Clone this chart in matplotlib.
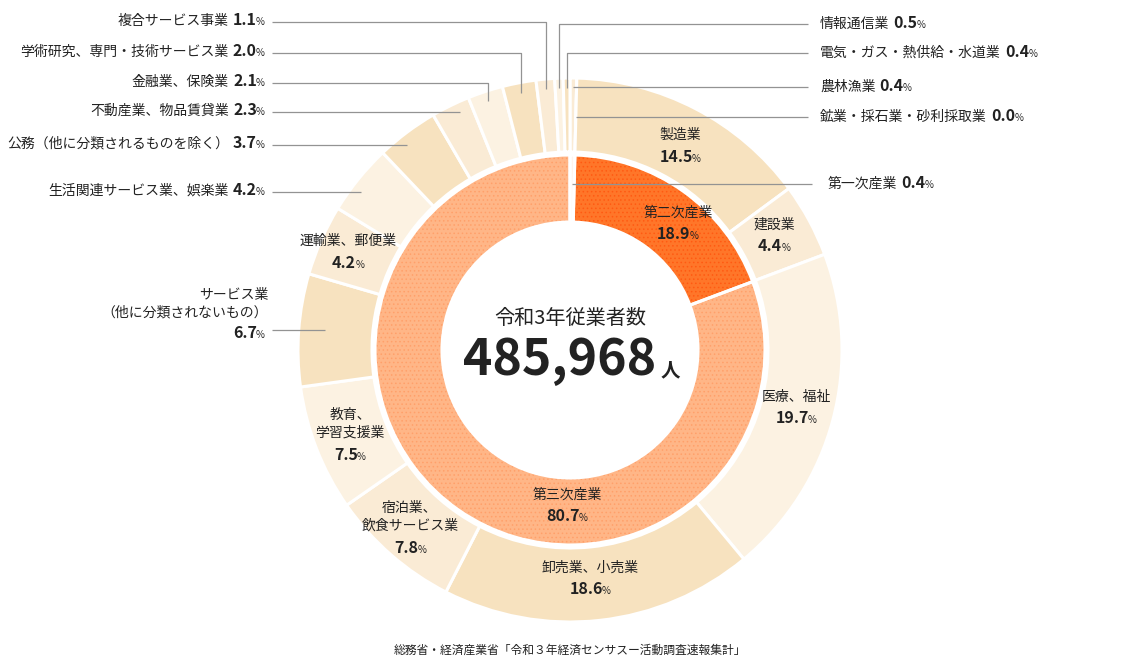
import matplotlib.pyplot as plt
import numpy as np

W, H = 1140, 670
CX, CY = 570, 350          # chart centre in pixel coords (y grows downward)
R_OUT, W_OUT = 272, 74
R_IN, W_IN = 195, 67

# data ------------------------------------------------------------------
outer_names = [
    "農林漁業", "鉱業・採石業・砂利採取業", "製造業", "建設業", "医療、福祉",
    "卸売業、小売業", "宿泊業、飲食サービス業", "教育、学習支援業",
    "サービス業（他に分類されないもの）", "運輸業、郵便業",
    "生活関連サービス業、娯楽業", "公務（他に分類されるものを除く）",
    "不動産業、物品賃貸業", "金融業、保険業", "学術研究、専門・技術サービス業",
    "複合サービス事業", "情報通信業", "電気・ガス・熱供給・水道業",
]
outer_share = [0.4, 0.0, 14.5, 4.4, 19.7, 18.6, 7.8, 7.5, 6.7, 4.2,
               4.2, 3.7, 2.3, 2.1, 2.0, 1.1, 0.5, 0.4]
inner_names = ["第一次産業", "第二次産業", "第三次産業"]
inner_share = [0.4, 18.9, 80.7]
total_title = "令和3年従業者数"
total_workers = 485968
source = "総務省・経済産業省「令和３年経済センサスー活動調査速報集計」"

# style -----------------------------------------------------------------
TXT = "#222222"
LINE = "#939393"
DARK, MID, LIGHT = "#F7E2BF", "#FAEBD5", "#FCF2E2"
outer_colors = [MID, MID] + [DARK, MID, LIGHT] * 5 + [DARK]
inner_face = ["#FFF4EC", "#FF7629", "#FFB687"]
inner_dots = ["#FFF4EC", "#FF5A12", "#FFA06A"]
NAME_FS, NUM_FS, PCT_FS = 10, 11.5, 7

plt.rcParams["font.family"] = ["Noto Sans CJK JP", "DejaVu Sans"]
plt.rcParams["hatch.linewidth"] = 0.6


def py(y):
    return H - y


def mid_angles(share):
    frac = np.asarray(share, dtype=float) / np.sum(share)
    return (np.cumsum(frac) - frac / 2) * 2 * np.pi   # clockwise from top


def ring_point(theta, r):
    return CX + r * np.sin(theta), CY - r * np.cos(theta)


fig = plt.figure(figsize=(W / 100, H / 100), dpi=100)
ax = fig.add_axes([0, 0, 1, 1])

ax.pie(outer_share, radius=R_OUT, center=(CX, py(CY)), startangle=90,
       counterclock=False, colors=outer_colors,
       wedgeprops=dict(width=W_OUT, edgecolor="white", linewidth=2.2))

wedges, _ = ax.pie(inner_share, radius=R_IN, center=(CX, py(CY)), startangle=90,
                   counterclock=False, colors=inner_face,
                   wedgeprops=dict(width=W_IN, linewidth=0))
for w, c in zip(wedges, inner_dots):
    w.set_edgecolor(c)
    w.set_linewidth(0)
    w.set_hatch("....")
ax.pie(inner_share, radius=R_IN, center=(CX, py(CY)), startangle=90,
       counterclock=False, colors=["none"] * 3,
       wedgeprops=dict(width=W_IN, edgecolor="white", linewidth=2.2))

ax.set_xlim(0, W)
ax.set_ylim(0, H)
ax.set_aspect("equal")
ax.axis("off")

th_out = mid_angles(outer_share)
th_in = mid_angles(inner_share)


# text helpers ----------------------------------------------------------
def pct_after(anchor):
    ax.annotate("%", xy=(1, 0), xycoords=anchor, xytext=(-0.6, 0.6),
                textcoords="offset points", ha="left", va="bottom",
                fontsize=PCT_FS, color=TXT)


def value_center(x, y, v):
    t = ax.text(x - 4, py(y), f"{v:.1f}", ha="center", va="center",
                fontsize=NUM_FS, fontweight="bold", color=TXT)
    pct_after(t)


def name_center(x, y, name, ha="center"):
    ax.text(x, py(y), name, ha=ha, va="center", fontsize=NAME_FS, color=TXT,
            linespacing=1.3, multialignment=ha)


def label_left(x, y, name, v):
    p = ax.text(x, py(y), "%", ha="right", va="center", fontsize=PCT_FS, color=TXT)
    t = ax.annotate(f"{v:.1f}", xy=(0, 0), xycoords=p, xytext=(0.6, -0.6),
                    textcoords="offset points", ha="right", va="bottom",
                    fontsize=NUM_FS, fontweight="bold", color=TXT)
    if name:
        ax.annotate(name, xy=(0, 0), xycoords=t, xytext=(-3, 0),
                    textcoords="offset points", ha="right", va="bottom",
                    fontsize=NAME_FS, color=TXT)


def label_right(x, y, name, v):
    n = ax.text(x, py(y), name, ha="left", va="center", fontsize=NAME_FS, color=TXT)
    t = ax.annotate(f"{v:.1f}", xy=(1, 0), xycoords=n, xytext=(3, 0),
                    textcoords="offset points", ha="left", va="bottom",
                    fontsize=NUM_FS, fontweight="bold", color=TXT)
    pct_after(t)


def leader(theta, y, x_text, kind, r=262):
    px, pyy = ring_point(theta, r)
    if kind == "elbow":
        xs, ys = [x_text, px, px], [y, y, pyy]
    elif kind == "arc":
        dx = np.sqrt(max(r ** 2 - (CY - y) ** 2, 0)) * np.sign(np.sin(theta))
        xs, ys = [x_text, CX + dx], [y, y]
    else:   # ray
        xs, ys = [x_text, CX + (CY - y) * np.tan(theta)], [y, y]
    ax.plot(xs, [py(v) for v in ys], color=LINE, lw=0.9, solid_capstyle="butt")


# labels inside the outer ring -----------------------------------------
inside = {
    2: (680, 135, 157, "製造業"),
    3: (774, 225, 246, "建設業"),
    4: (796, 397, 418, "医療、福祉"),
    5: (590, 568, 589, "卸売業、小売業"),
    6: (410, 517, 548, "宿泊業、\n飲食サービス業"),
    7: (350, 424, 455, "教育、\n学習支援業"),
    9: (348, 241, 263, "運輸業、郵便業"),
}
for i, (x, yn, yv, text) in inside.items():
    name_center(x, yn, text)
    value_center(x, yv, outer_share[i])

# サービス業 sits outside, right aligned
name_center(268, 304, "サービス業\n（他に分類されないもの）", ha="right")
label_left(265, 335, "", outer_share[8])
leader(th_out[8], 330, 272, "arc", r=246)

# outside labels, left column
left_rows = [(15, 22, "elbow"), (14, 53, "elbow"), (13, 83, "elbow"),
             (12, 112, "arc"), (11, 145, "arc"), (10, 192, "arc")]
for i, y, kind in left_rows:
    label_left(265, y, outer_names[i], outer_share[i])
    leader(th_out[i], y, 272, kind)

# outside labels, right column
right_rows = [(16, 24, "elbow"), (17, 53, "elbow"), (0, 87, "ray"), (1, 117, "ray")]
for i, y, kind in right_rows:
    label_right(820, y, outer_names[i], outer_share[i])
    leader(th_out[i], y, 808, kind)

# inner ring labels
label_right(828, 184, inner_names[0], inner_share[0])
leader(th_in[0], 184, 812, "ray")
name_center(678, 213, inner_names[1])
value_center(678, 234, inner_share[1])
name_center(567, 495, inner_names[2])
value_center(567, 516, inner_share[2])

# centre total
ax.text(CX, py(318), total_title, ha="center", va="center", fontsize=14.5,
        color=TXT)
big = ax.text(CX - 10, py(360), f"{total_workers:,}", ha="center", va="center",
              fontsize=36, fontweight="bold", color=TXT)
ax.annotate("人", xy=(1, 0), xycoords=big, xytext=(3, 4),
            textcoords="offset points", ha="left", va="bottom", fontsize=14,
            fontweight="bold", color=TXT)

ax.text(CX, py(650), source, ha="center", va="center", fontsize=8.5, color=TXT)

fig.savefig("out.png", dpi=100, facecolor="white")
